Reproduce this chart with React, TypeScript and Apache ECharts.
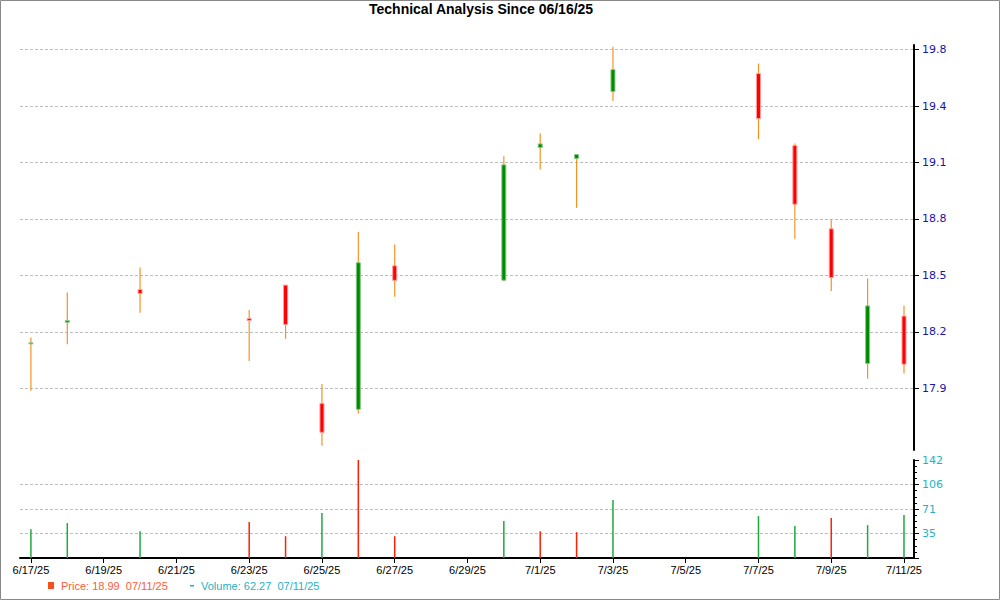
import React, { useEffect, useRef } from 'react';
import * as echarts from 'echarts';

// ---- Data ----
const tradeDates = [
  '6/17/25', '6/18/25', '6/20/25', '6/23/25', '6/24/25', '6/25/25', '6/26/25', '6/27/25',
  '6/30/25', '7/1/25', '7/2/25', '7/3/25', '7/7/25', '7/8/25', '7/9/25', '7/10/25', '7/11/25',
];
const openPrices = [18.14, 18.258, 18.438, 18.279, 18.462, 17.813, 17.78, 18.568, 18.489, 19.217, 19.157, 19.524, 19.623, 19.228, 18.771, 18.032, 18.292];
const closePrices = [18.145, 18.268, 18.416, 18.268, 18.246, 17.654, 18.585, 18.488, 19.122, 19.237, 19.179, 19.645, 19.376, 18.906, 18.504, 18.348, 18.028];
const lowPrices = [17.882, 18.138, 18.31, 18.046, 18.167, 17.58, 17.757, 18.398, 18.485, 19.097, 18.886, 19.473, 19.264, 18.716, 18.43, 17.948, 17.977];
const highPrices = [18.175, 18.422, 18.559, 18.325, 18.462, 17.919, 18.754, 18.685, 19.17, 19.294, 19.179, 19.77, 19.678, 19.239, 18.822, 18.499, 18.35];
const volumes = [41.7, 50.4, 38.8, 51.9, 31.5, 65.0, 141.6, 31.5, 53.4, 38.8, 37.3, 83.9, 60.6, 46.1, 57.7, 47.5, 62.27];
const volumeUp = [true, true, true, false, false, true, false, false, true, false, false, true, true, true, false, true, true];

const xTickLabels = ['6/17/25', '6/19/25', '6/21/25', '6/23/25', '6/25/25', '6/27/25', '6/29/25', '7/1/25', '7/3/25', '7/5/25', '7/7/25', '7/9/25', '7/11/25'];
const priceTicks = [17.895, 18.205, 18.515, 18.825, 19.135, 19.445, 19.755];
const volumeTickStep = 35.4;
const volumeMax = 141.6;

const titleText = 'Technical Analysis Since 06/16/25';
const priceLegend = 'Price: 18.99  07/11/25';
const volumeLegend = 'Volume: 62.27  07/11/25';

// day offset from the first date
function dayIndex(s: string): number {
  const [m, d, y] = s.split('/').map(Number);
  const t = Date.UTC(2000 + y, m - 1, d);
  const t0 = Date.UTC(2025, 5, 17);
  return Math.round((t - t0) / 86400000);
}

const xTickValues = xTickLabels.map(dayIndex);
const labelByIndex: Record<number, string> = {};
xTickLabels.forEach((l) => { labelByIndex[dayIndex(l)] = l; });

const candleData = tradeDates.map((d, i) => [dayIndex(d), openPrices[i], closePrices[i], lowPrices[i], highPrices[i]]);
const volumeData = tradeDates.map((d, i) => [dayIndex(d), volumes[i]]);

const X_MIN = -0.3;
const X_MAX = 24.275;

export default function App() {
  const ref = useRef<HTMLDivElement>(null);

  useEffect(() => {
    document.body.style.margin = '0';
    if (!ref.current) return;
    const chart = echarts.init(ref.current, null, { renderer: 'svg' });

    const gridLine = { show: true, lineStyle: { color: '#bdbdbd', type: [3, 2] as any, width: 1 } };

    chart.setOption({
      animation: false,
      backgroundColor: '#fff',
      title: {
        text: titleText,
        left: 364,
        top: -3,
        textStyle: { fontFamily: 'Liberation Sans', fontWeight: 'bold', fontSize: 14, color: '#000' },
      },
      grid: [
        { left: 20, right: 86, top: 45, height: 405 },
        { left: 20, right: 86, top: 460, height: 98 },
      ],
      xAxis: [
        {
          type: 'value', gridIndex: 0, min: X_MIN, max: X_MAX, show: false,
          splitLine: { show: false },
        },
        {
          type: 'value', gridIndex: 1, min: X_MIN, max: X_MAX, position: 'bottom',
          axisLine: { show: true, onZero: false, lineStyle: { color: '#000', width: 2 } },
          axisTick: { show: true, customValues: xTickValues, length: 5, lineStyle: { color: '#000', width: 1 } },
          axisLabel: {
            customValues: xTickValues,
            formatter: (v: number) => labelByIndex[Math.round(v)] ?? '',
            fontFamily: 'Liberation Sans', fontSize: 11, color: '#000', margin: 6,
          },
          splitLine: { show: false },
        },
      ],
      yAxis: [
        {
          type: 'value', gridIndex: 0, position: 'right', min: 17.557, max: 19.78,
          axisLine: { show: true, onZero: false, lineStyle: { color: '#000', width: 2 } },
          axisTick: { show: true, customValues: priceTicks, length: 5, lineStyle: { color: '#000', width: 1 } },
          axisLabel: {
            customValues: priceTicks,
            formatter: (v: number) => v.toFixed(1),
            fontFamily: 'DejaVu Sans', fontSize: 11, color: '#1a14a8', margin: 8,
          },
          splitLine: gridLine,
        },
        {
          type: 'value', gridIndex: 1, position: 'right', min: 0, max: volumeMax, interval: volumeTickStep,
          axisLine: { show: true, onZero: false, lineStyle: { color: '#000', width: 2 } },
          axisTick: { show: true, length: 5, lineStyle: { color: '#000', width: 1 } },
          minorTick: { show: true, splitNumber: 4, length: 3, lineStyle: { color: '#000', width: 1 } },
          axisLabel: {
            showMinLabel: false,
            formatter: (v: number) => (v === 0 ? '' : String(Math.round(v))),
            fontFamily: 'DejaVu Sans', fontSize: 11, color: '#1db3c4', margin: 8,
          },
          splitLine: { ...gridLine, showMinLine: false, showMaxLine: false },
        },
      ],
      series: [
        {
          type: 'custom',
          xAxisIndex: 0,
          yAxisIndex: 0,
          data: candleData,
          renderItem: (params: any, api: any) => {
            const x = api.value(0);
            const o = api.value(1);
            const c = api.value(2);
            const l = api.value(3);
            const h = api.value(4);
            const pH = api.coord([x, h]);
            const pL = api.coord([x, l]);
            const pO = api.coord([x, o]);
            const pC = api.coord([x, c]);
            const up = c >= o;
            const top = Math.min(pO[1], pC[1]);
            const bh = Math.max(1, Math.abs(pO[1] - pC[1]));
            const cx = pH[0];
            return {
              type: 'group',
              children: [
                {
                  type: 'line',
                  shape: { x1: cx, y1: pH[1], x2: cx, y2: pL[1] },
                  style: { stroke: '#f39325', lineWidth: 1.2 },
                },
                {
                  type: 'rect',
                  shape: { x: cx - 2, y: top, width: 4, height: bh },
                  style: {
                    fill: up ? '#008a00' : '#ff0000',
                    stroke: up ? '#86c986' : '#ff9c9c',
                    lineWidth: 1,
                  },
                },
              ],
            };
          },
        },
        {
          type: 'custom',
          xAxisIndex: 1,
          yAxisIndex: 1,
          data: volumeData,
          renderItem: (params: any, api: any) => {
            const x = api.value(0);
            const v = api.value(1);
            const p0 = api.coord([x, 0]);
            const p1 = api.coord([x, v]);
            return {
              type: 'line',
              shape: { x1: p0[0], y1: p0[1], x2: p1[0], y2: p1[1] },
              style: { stroke: volumeUp[params.dataIndex] ? '#1eaa3c' : '#ff2000', lineWidth: 1.5 },
            };
          },
        },
      ],
      graphic: [
        {
          type: 'rect',
          shape: { x: 0.5, y: 0.5, width: 999, height: 599 },
          style: { fill: 'none', stroke: '#888', lineWidth: 1 },
          silent: true,
        },
        {
          type: 'rect',
          shape: { x: 48, y: 582, width: 6, height: 7 },
          style: { fill: '#f4511e' },
        },
        {
          type: 'text',
          x: 61, y: 586,
          style: {
            text: priceLegend, fill: '#ff5a3c', fontFamily: 'Liberation Sans', fontSize: 11,
            verticalAlign: 'middle', align: 'left',
          },
        },
        {
          type: 'rect',
          shape: { x: 190, y: 585, width: 4, height: 1.5 },
          style: { fill: '#1db3c4' },
        },
        {
          type: 'text',
          x: 201, y: 586,
          style: {
            text: volumeLegend, fill: '#1db3c4', fontFamily: 'Liberation Sans', fontSize: 11,
            verticalAlign: 'middle', align: 'left',
          },
        },
      ],
    });

    return () => chart.dispose();
  }, []);

  return <div ref={ref} style={{ width: 1000, height: 600 }} />;
}
